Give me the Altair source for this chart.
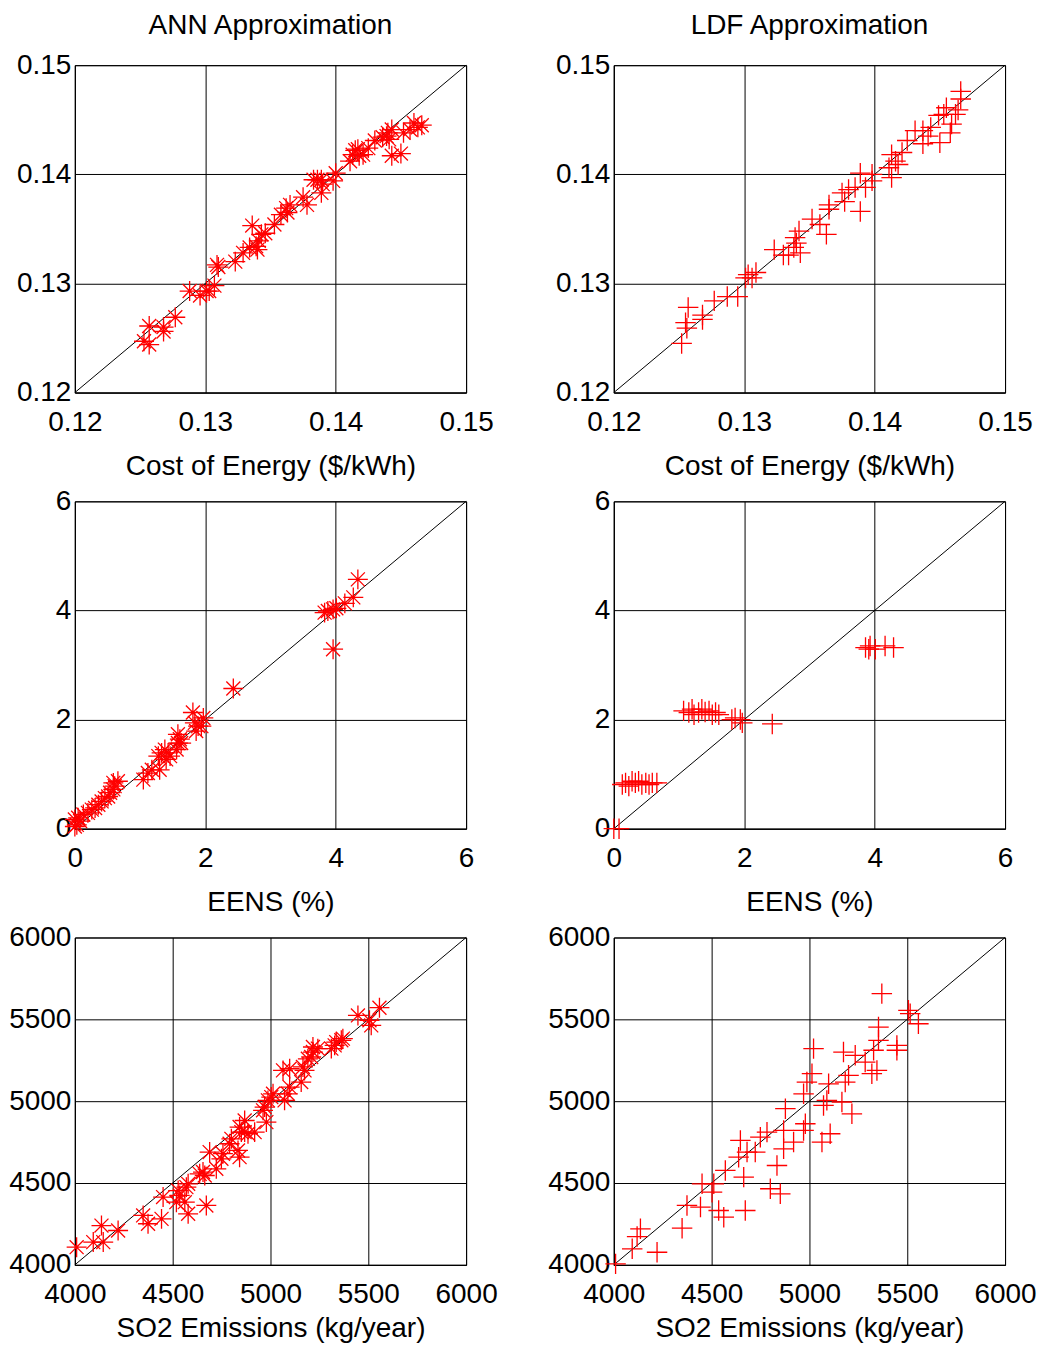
import altair as alt
import pandas as pd

FONT = "Liberation Sans"

# ---------------- Cost of Energy ($/kWh) ----------------
ann_coe_x = [0.1253, 0.1257, 0.1257, 0.1268, 0.1268, 0.1277, 0.1288, 0.1296, 0.1301, 0.1303,
             0.1307, 0.1309, 0.1310, 0.1323, 0.1329, 0.1334, 0.1336, 0.1339, 0.1341, 0.1343,
             0.1340, 0.1346, 0.1353, 0.1358, 0.1362, 0.1365, 0.1363, 0.1375, 0.1378, 0.1383,
             0.1386, 0.1389, 0.1390, 0.1389, 0.1398, 0.1400, 0.1411, 0.1413, 0.1415, 0.1417,
             0.1418, 0.1421, 0.1425, 0.1430, 0.1436, 0.1439, 0.1440, 0.1443, 0.1441, 0.1443,
             0.1450, 0.1452, 0.1457, 0.1460, 0.1463, 0.1466]
ann_coe_y = [0.1247, 0.1244, 0.1261, 0.1260, 0.1256, 0.1269, 0.1293, 0.1289, 0.1293, 0.1293,
             0.1298, 0.1317, 0.1315, 0.1320, 0.1328, 0.1333, 0.1353, 0.1334, 0.1339, 0.1345,
             0.1331, 0.1346, 0.1354, 0.1363, 0.1369, 0.1372, 0.1365, 0.1379, 0.1372, 0.1395,
             0.1395, 0.1395, 0.1391, 0.1383, 0.1394, 0.1401, 0.1412, 0.1418, 0.1422, 0.1423,
             0.1417, 0.1418, 0.1424, 0.1431, 0.1434, 0.1435, 0.1438, 0.1441, 0.1432, 0.1417,
             0.1419, 0.1438, 0.1441, 0.1447, 0.1443, 0.1445]

ldf_coe_x = [0.1252, 0.1255, 0.1257, 0.1256, 0.1268, 0.1268, 0.1277, 0.1287, 0.1295, 0.1301,
             0.1303, 0.1306, 0.1309, 0.1323, 0.1330, 0.1334, 0.1338, 0.1339, 0.1340, 0.1342,
             0.1343, 0.1352, 0.1358, 0.1363, 0.1365, 0.1365, 0.1375, 0.1377, 0.1380, 0.1385,
             0.1389, 0.1389, 0.1393, 0.1398, 0.1398, 0.1411, 0.1413, 0.1413, 0.1416, 0.1418,
             0.1421, 0.1425, 0.1431, 0.1437, 0.1437, 0.1441, 0.1443, 0.1450, 0.1449, 0.1453,
             0.1455, 0.1458, 0.1459, 0.1462, 0.1464, 0.1466, 0.1466]
ldf_coe_y = [0.1245, 0.1264, 0.1278, 0.1259, 0.1267, 0.1271, 0.1284, 0.1288, 0.1288, 0.1305,
             0.1308, 0.1305, 0.1310, 0.1331, 0.1326, 0.1326, 0.1333, 0.1342, 0.1337, 0.1348,
             0.1328, 0.1359, 0.1354, 0.1345, 0.1368, 0.1372, 0.1383, 0.1375, 0.1386, 0.1388,
             0.1401, 0.1366, 0.1388, 0.1394, 0.1400, 0.1406, 0.1397, 0.1418, 0.1412, 0.1409,
             0.1420, 0.1431, 0.1440, 0.1428, 0.1440, 0.1435, 0.1443, 0.1429, 0.1454, 0.1455,
             0.1461, 0.1438, 0.1446, 0.1455, 0.1459, 0.1469, 0.1476]

# ---------------- EENS (%) ----------------
ann_eens_x = [0.00, 0.05, 0.03, 0.00, 0.08, 0.13, 0.20, 0.26, 0.31, 0.36, 0.41, 0.46, 0.51,
              0.54, 0.59, 0.61, 0.66, 0.59, 1.05, 1.12, 1.18, 1.30, 1.28, 1.33, 1.38, 1.43,
              1.46, 1.40, 1.56, 1.58, 1.61, 1.63, 1.58, 1.81, 1.84, 1.89, 1.94, 1.97, 1.86,
              2.43, 3.83, 3.88, 3.96, 4.01, 4.14, 4.27, 4.34, 3.96]
ann_eens_y = [0.17, 0.20, 0.07, 0.04, 0.14, 0.26, 0.29, 0.35, 0.38, 0.44, 0.50, 0.56, 0.59,
              0.66, 0.72, 0.78, 0.87, 0.84, 0.90, 1.02, 1.08, 1.08, 1.33, 1.39, 1.45, 1.39,
              1.33, 1.27, 1.45, 1.57, 1.64, 1.57, 1.73, 2.13, 1.94, 1.88, 1.88, 2.03, 1.79,
              2.57, 3.96, 3.99, 4.02, 4.04, 4.13, 4.24, 4.57, 3.29]

ldf_eens_x = [0.00, 0.08, 0.13, 0.18, 0.23, 0.28, 0.33, 0.38, 0.43, 0.49, 0.54, 0.59, 0.66,
              1.07, 1.15, 1.23, 1.20, 1.30, 1.35, 1.40, 1.46, 1.51, 1.56, 1.61, 1.81, 1.86,
              1.94, 1.97, 2.43, 3.86, 3.93, 3.91, 4.01, 4.16, 4.29]
ldf_eens_y = [0.00, 0.00, 0.81, 0.84, 0.78, 0.87, 0.84, 0.87, 0.81, 0.84, 0.81, 0.84, 0.84,
              2.16, 2.13, 2.09, 2.19, 2.13, 2.19, 2.14, 2.16, 2.09, 2.13, 2.09, 2.00, 2.03,
              2.00, 1.94, 1.92, 3.32, 3.35, 3.29, 3.29, 3.35, 3.32]

# ---------------- SO2 Emissions (kg/year) ----------------
ann_so2_x = [4009, 4094, 4136, 4145, 4221, 4349, 4374, 4443, 4451, 4519, 4528, 4536, 4562,
             4570, 4579, 4579, 4672, 4638, 4655, 4664, 4689, 4723, 4749, 4757, 4791, 4800,
             4834, 4842, 4842, 4851, 4868, 4868, 4885, 4919, 4962, 4970, 4979, 4987, 5004,
             5013, 5072, 5089, 5098, 5157, 5064, 5098, 5166, 5174, 5191, 5208, 5217, 5217,
             5242, 5311, 5328, 5336, 5362, 5370, 5447, 5506, 5515, 5557]
ann_so2_y = [4108, 4139, 4240, 4139, 4210, 4302, 4251, 4281, 4414, 4383, 4454, 4424, 4383,
             4475, 4495, 4312, 4363, 4556, 4567, 4546, 4689, 4587, 4648, 4679, 4740, 4770,
             4699, 4658, 4842, 4811, 4811, 4882, 4801, 4811, 4944, 4964, 4872, 5005, 5025,
             5045, 5005, 5045, 5086, 5117, 5188, 5198, 5209, 5188, 5259, 5270, 5331, 5300,
             5321, 5321, 5341, 5361, 5372, 5382, 5524, 5494, 5463, 5571]

ldf_so2_x = [4009, 4094, 4119, 4136, 4221, 4349, 4374, 4443, 4451, 4502, 4511, 4536, 4562,
             4570, 4647, 4638, 4664, 4672, 4681, 4723, 4749, 4783, 4800, 4834, 4851, 4868,
             4868, 4877, 4919, 4970, 4979, 4970, 4987, 5021, 5013, 5064, 5072, 5089, 5106,
             5098, 5166, 5183, 5200, 5217, 5174, 5234, 5285, 5319, 5345, 5328, 5353, 5353,
             5370, 5447, 5447, 5506, 5515, 5557]
ldf_so2_y = [4006, 4098, 4173, 4220, 4077, 4224, 4363, 4353, 4495, 4444, 4495, 4332, 4291,
             4577, 4760, 4658, 4536, 4332, 4689, 4689, 4780, 4811, 4465, 4607, 4434, 4709,
             4821, 4954, 4750, 4821, 4862, 5045, 5117, 5321, 5168, 4750, 4974, 5005, 4801,
             5106, 4995, 5117, 5158, 4923, 5300, 5280, 5239, 5168, 5188, 5311, 5372, 5453,
             5657, 5341, 5311, 5555, 5535, 5473]

coe_dom = [0.12, 0.15]
coe_ticks = [0.12, 0.13, 0.14, 0.15]
eens_dom = [0, 6]
eens_ticks = [0, 2, 4, 6]
so2_dom = [4000, 6000]
so2_ticks = [4000, 4500, 5000, 5500, 6000]

STAR = "M-1,0L1,0M0,-1L0,1M-0.7,-0.7L0.7,0.7M-0.7,0.7L0.7,-0.7"
PLUS = "M-1,0L1,0M0,-1L0,1"

W, H = 392, 328


def panel(xs, ys, shape, size, dom, ticks, fmt, xtitle, title=None, tpad=16):
    df = pd.DataFrame({"x": xs, "y": ys})
    line_df = pd.DataFrame({"x": dom, "y": dom})
    xscale = alt.Scale(domain=dom, nice=False, zero=False)
    yscale = alt.Scale(domain=dom, nice=False, zero=False)
    xaxis = alt.Axis(values=ticks, format=fmt, title=xtitle, grid=True, titlePadding=tpad)
    yaxis = alt.Axis(values=ticks, format=fmt, title=None, grid=True)
    line = alt.Chart(line_df).mark_line(color="black", strokeWidth=1).encode(
        x=alt.X("x:Q", scale=xscale, axis=xaxis),
        y=alt.Y("y:Q", scale=yscale, axis=yaxis),
    )
    pts = alt.Chart(df).mark_point(
        shape=shape, size=size, color="red", strokeWidth=1.3, filled=False, opacity=1
    ).encode(x="x:Q", y="y:Q")
    ch = alt.layer(line, pts).properties(width=W, height=H)
    if title:
        ch = ch.properties(title=alt.TitleParams(title))
    return ch


p1 = panel(ann_coe_x, ann_coe_y, STAR, 400, coe_dom, coe_ticks, ".2f",
           "Cost of Energy ($/kWh)", "ANN Approximation")
p2 = panel(ldf_coe_x, ldf_coe_y, PLUS, 420, coe_dom, coe_ticks, ".2f",
           "Cost of Energy ($/kWh)", "LDF Approximation")
p3 = panel(ann_eens_x, ann_eens_y, STAR, 400, eens_dom, eens_ticks, "d", "EENS (%)")
p4 = panel(ldf_eens_x, ldf_eens_y, PLUS, 420, eens_dom, eens_ticks, "d", "EENS (%)")
p5 = panel(ann_so2_x, ann_so2_y, STAR, 400, so2_dom, so2_ticks, "d",
           "SO2 Emissions (kg/year)", tpad=6)
p6 = panel(ldf_so2_x, ldf_so2_y, PLUS, 420, so2_dom, so2_ticks, "d",
           "SO2 Emissions (kg/year)", tpad=6)

chart = alt.concat(
    p1, p2, p3, p4, p5, p6, columns=2,
    spacing={"row": 109, "column": 148}, bounds="flush",
).properties(
    padding={"left": 0, "top": 2, "right": 0, "bottom": 0},
    background="white",
).configure_view(
    stroke="black", strokeWidth=1,
).configure_axis(
    gridColor="black", gridOpacity=1, gridWidth=1,
    domainColor="black", domainWidth=1,
    ticks=False, tickSize=0,
    labelFont=FONT, labelColor="black",
    labelFlush=False, labelOverlap=False, labelBound=False,
    titleFont=FONT, titleFontSize=28, titleFontWeight="normal", titleColor="black",
).configure_axisX(
    labelFontSize=28, labelPadding=16,
).configure_axisY(
    labelFontSize=28, labelPadding=4,
).configure_title(
    font=FONT, fontSize=28, fontWeight="normal", color="black", offset=11, anchor="middle",
)

chart.save("out.html", embed_options={"renderer": "svg", "actions": False})
